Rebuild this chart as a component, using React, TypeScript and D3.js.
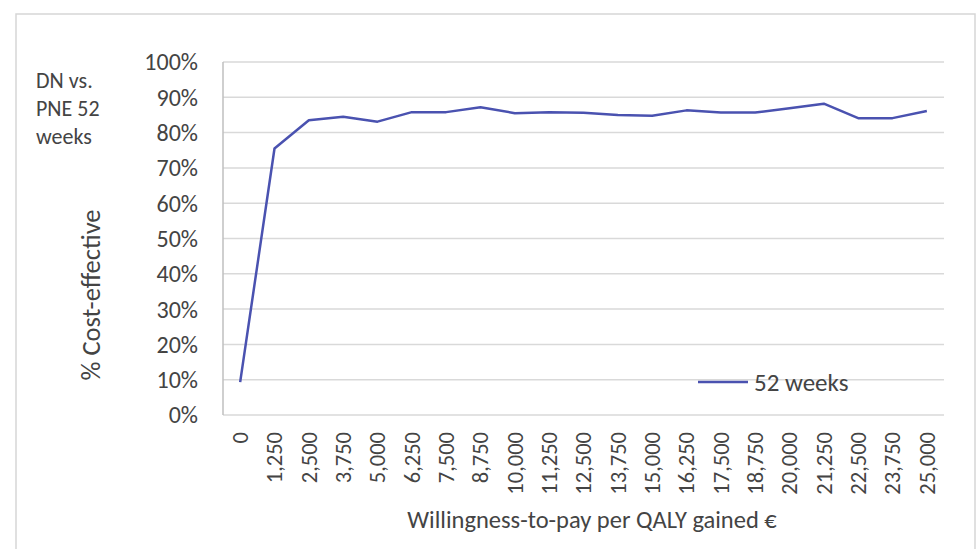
import * as d3 from "d3";

const wtp = [0, 1250, 2500, 3750, 5000, 6250, 7500, 8750, 10000, 11250, 12500, 13750, 15000, 16250, 17500, 18750, 20000, 21250, 22500, 23750, 25000];
const pctCostEffective = [0.093, 0.755, 0.835, 0.845, 0.831, 0.858, 0.858, 0.872, 0.855, 0.858, 0.856, 0.85, 0.848, 0.863, 0.857, 0.857, 0.869, 0.882, 0.841, 0.841, 0.861];
const yTicks = [0, 0.1, 0.2, 0.3, 0.4, 0.5, 0.6, 0.7, 0.8, 0.9, 1];
const seriesName = "52 weeks";
const sideNote = ["DN vs.", "PNE 52", "weeks"];

const W = 979;
const H = 549;
const PLOT = { left: 223, right: 944, top: 62, bottom: 415 };
const FONT = "Carlito, Calibri, Lato, sans-serif";
const TEXT = "#444";
const LINE = "#4a52b0";

export default function App() {
    const x = d3
        .scaleBand<string>()
        .domain(wtp.map(String))
        .range([PLOT.left, PLOT.right])
        .padding(0);
    const y = d3.scaleLinear().domain([0, 1]).range([PLOT.bottom, PLOT.top]);
    const cx = (v: number) => (x(String(v)) ?? 0) + x.bandwidth() / 2;

    const line = d3
        .line<number>()
        .x((_, i) => cx(wtp[i]))
        .y((d) => y(d));

    const fmtPct = d3.format(".0%");
    const fmtNum = d3.format(",");

    return (
        <svg
            width={W}
            height={H}
            style={{ position: "absolute", left: 0, top: 0, background: "#fff" }}
            fontFamily={FONT}
        >
            <rect x={16} y={14} width={959} height={600} fill="#fff" stroke="#d6d6d6" strokeWidth={1.5} />

            {/* gridlines */}
            {yTicks.map((t) => (
                <line key={t} x1={PLOT.left} x2={PLOT.right} y1={y(t)} y2={y(t)} stroke="#d9d9d9" strokeWidth={1.5} />
            ))}
            <line x1={PLOT.left} x2={PLOT.left} y1={PLOT.top} y2={PLOT.bottom} stroke="#bfbfbf" strokeWidth={1.5} />

            {/* y tick labels */}
            {yTicks.map((t) => (
                <text key={t} x={198} y={y(t)} dy="0.35em" textAnchor="end" fontSize={24} fill={TEXT}>
                    {fmtPct(t)}
                </text>
            ))}

            {/* x tick labels */}
            {wtp.map((v) => (
                <text
                    key={v}
                    transform={`translate(${cx(v)},432) rotate(-90)`}
                    dy="0.35em"
                    textAnchor="end"
                    fontSize={22.5}
                    fill={TEXT}
                >
                    {fmtNum(v)}
                </text>
            ))}

            <path d={line(pctCostEffective) ?? ""} fill="none" stroke={LINE} strokeWidth={2.5} strokeLinejoin="round" />

            {/* legend */}
            <line x1={698} x2={748} y1={382} y2={382} stroke={LINE} strokeWidth={2.5} />
            <text x={754} y={382} dy="0.35em" fontSize={25} fill={TEXT}>
                {seriesName}
            </text>

            {/* axis titles */}
            <text x={592} y={528} textAnchor="middle" fontSize={24.5} fill={TEXT}>
                Willingness-to-pay per QALY gained €
            </text>
            <text transform="translate(91,295) rotate(-90)" dy="0.35em" textAnchor="middle" fontSize={26.5} fill={TEXT}>
                % Cost-effective
            </text>

            {sideNote.map((s, i) => (
                <text key={s} x={36} y={80 + i * 28} dy="0.35em" fontSize={22} fill={TEXT}>
                    {s}
                </text>
            ))}
        </svg>
    );
}
